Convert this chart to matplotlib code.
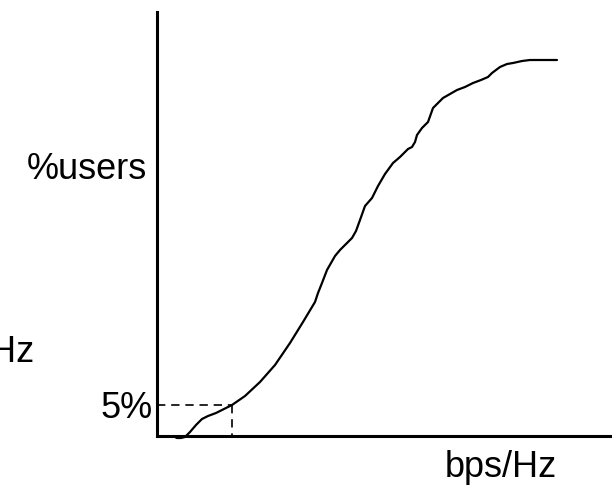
import matplotlib
matplotlib.use("Agg")
import matplotlib.pyplot as plt

# CDF sketch, values (arbitrary units: x = bps/Hz, y = %users)
rate = [16, 20, 24, 28, 33, 39, 45, 51, 59, 67, 75, 88, 103, 118, 133, 146,
        158, 161, 165, 170, 178, 183, 191, 195, 199, 203, 208, 215, 221, 228,
        236, 243, 251, 255, 258, 260, 265, 271, 276, 281, 286, 293, 300, 308,
        316, 324, 331, 335, 343, 350, 356, 365, 373, 388, 400]
users = [0, -2, -2, -1, 4, 11, 17, 20, 23, 27, 31, 40, 54, 71, 93, 114,
         134, 143, 153, 166, 180, 186, 194, 198, 205, 216, 230, 238, 250, 262,
         273, 279, 287, 289, 294, 301, 308, 314, 328, 333, 338, 342, 346, 349,
         353, 356, 359, 363, 369, 372, 373, 375, 376, 376, 376]
rate_5pct = 75
users_5pct = 31

plt.rcParams["font.family"] = ["Liberation Sans", "DejaVu Sans"]

fig = plt.figure(figsize=(6.12, 4.88), dpi=100)
ax = fig.add_axes([157 / 612, 52 / 488, 455 / 612, 424 / 488])
ax.set_xlim(0, 455)
ax.set_ylim(0, 424)

ax.plot(rate, users, color="black", lw=1.6, clip_on=False,
        solid_capstyle="round", solid_joinstyle="round")
ax.plot([0, rate_5pct], [users_5pct, users_5pct], color="black", lw=1.2,
        ls=(0, (5, 3.5)))
ax.plot([rate_5pct, rate_5pct], [users_5pct, 0], color="black", lw=1.2,
        ls=(0, (5, 3.5)))

for s in ("top", "right"):
    ax.spines[s].set_visible(False)
for s in ("left", "bottom"):
    ax.spines[s].set_linewidth(2.2)
ax.set_xticks([])
ax.set_yticks([])

fs = 26
fig.text(147 / 612, (488 - 179) / 488, "%users", ha="right", va="baseline", fontsize=fs)
fig.text(153 / 612, (488 - 418) / 488, "5%", ha="right", va="baseline", fontsize=fs)
fig.text(445 / 612, (488 - 477) / 488, "bps/Hz", ha="left", va="baseline", fontsize=fs)
# label of the neighbouring panel, cut off at the left edge as in the reference
fig.text(34 / 612, (488 - 362) / 488, "Hz", ha="right", va="baseline", fontsize=fs)

fig.savefig("out.png", dpi=100)
